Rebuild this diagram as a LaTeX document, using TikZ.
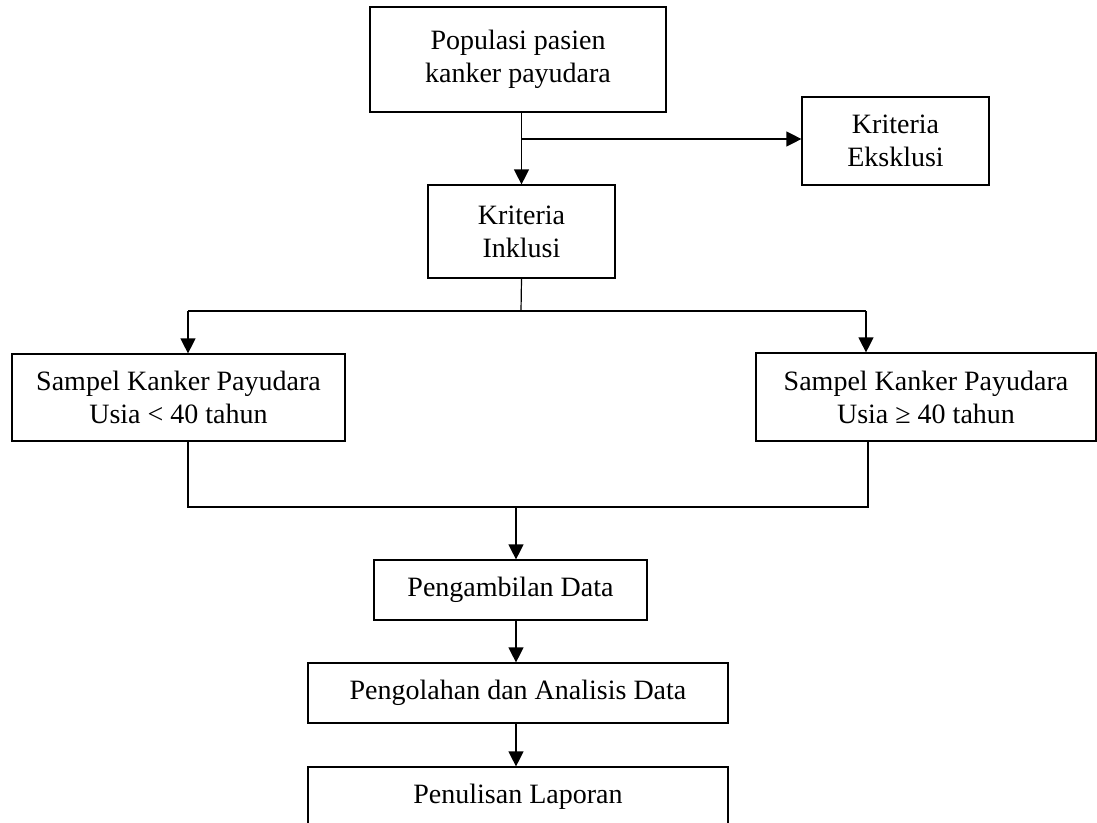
\documentclass[tikz,border=0pt]{standalone}
\usepackage{fontspec}
\setmainfont{Liberation Serif}
\usetikzlibrary{arrows.meta,calc}
\begin{document}
\begin{tikzpicture}[x=1pt,y=-1pt,
  box/.style={draw, line width=1.2pt, inner sep=0pt, align=center, font=\fontsize{28}{33}\selectfont},
  arr/.style={line width=1.2pt, -{Triangle[length=15pt,width=15pt]}},
  ln/.style={line width=1.2pt},
  thickln/.style={line width=2.4pt}]
\useasboundingbox (0,0) rectangle (1097,822);
\clip (0,0) rectangle (1097,822);
\fill[white] (0,0) rectangle (1097,822);
% boxes
\node[box, minimum width=296pt, minimum height=105pt] (pop) at (518,59.5) {Populasi pasien\\kanker payudara};
\node[box, minimum width=187pt, minimum height=88pt] (eks) at (895.5,141) {Kriteria\\Eksklusi};
\node[box, minimum width=187pt, minimum height=93pt] (ink) at (521.5,231.5) {Kriteria\\Inklusi};
\node[box, minimum width=333pt, minimum height=87pt] (sl) at (178.5,397.5) {Sampel Kanker Payudara\\Usia < 40 tahun};
\node[box, minimum width=340pt, minimum height=88pt] (sr) at (926,397) {Sampel Kanker Payudara\\Usia ≥ 40 tahun};
\node[box, minimum width=273pt, minimum height=60pt] (amb) at (510.5,590) {Pengambilan Data};
\node[box, minimum width=420pt, minimum height=60pt] (olah) at (518,693) {Pengolahan dan Analisis Data};
\node[box, minimum width=420pt, minimum height=60pt] (tulis) at (518,797) {Penulisan Laporan};
% junction coordinates
\coordinate (j1) at (521,139);
\coordinate (j2) at (521,311);
\coordinate (bl) at (188,311);
\coordinate (br) at (866,311);
\coordinate (ml) at (188,507);
\coordinate (mr) at (868,507);
\coordinate (mc) at (516,507);
% connectors
\draw[arr] (pop.south -| ink.north) -- (ink.north);
\draw[arr] (j1) -- (j1 -| eks.west);
\draw[ln] (ink.south) -- (j2);
\draw[thickln] (bl) -- (br);
\draw[arr] (bl) -- (bl |- sl.north);
\draw[arr] (br) -- (br |- sr.north);
\draw[ln] (sl.south -| ml) -- (ml) -- (mr) -- (sr.south -| mr);
\draw[arr] (mc) -- (mc |- amb.north);
\draw[arr] (amb.south -| mc) -- (mc |- olah.north);
\draw[arr] (olah.south -| mc) -- (mc |- tulis.north);
\end{tikzpicture}
\end{document}
